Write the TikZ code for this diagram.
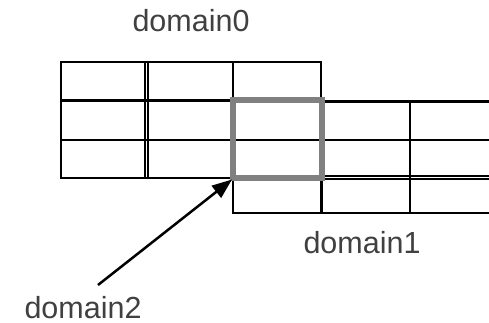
\documentclass[tikz,border=0pt]{standalone}
\usepackage{fontspec}
\setmainfont{Liberation Sans}
\usetikzlibrary{arrows.meta}
\definecolor{txt}{HTML}{404040}
\definecolor{hl}{HTML}{808080}
\begin{document}
\begin{tikzpicture}[x=1pt,y=-1pt,
  gridline/.style={draw=black,line width=2.2pt},
  label/.style={text=txt,font=\fontsize{30.5}{33}\selectfont,inner sep=0pt,anchor=base},
  highlight/.style={draw=hl,line width=6pt},
  pointer/.style={draw=black,line width=2.5pt,-{Triangle[length=20pt,width=15pt]}}]
\useasboundingbox (0,0) rectangle (489,323);
% domain1 grid
\draw[gridline] (489,101.5) -- (233,101.5) -- (233,213) -- (489,213);
\draw[gridline] (233,140) -- (489,140);
\draw[gridline] (233,176) -- (489,176);
\draw[gridline] (325,179) -- (489,179);
\draw[gridline] (321.5,101.5) -- (321.5,213);
\draw[gridline] (410,101.5) -- (410,213);
% domain0 grid
\draw[gridline] (61,62) rectangle (321,178);
\draw[gridline] (61,100.5) -- (321,100.5);
\draw[gridline] (61,140) -- (321,140);
\draw[gridline] (145,62) -- (145,178);
\draw[gridline] (148,62) -- (148,178);
\draw[gridline] (233,62) -- (233,178);
% domain2 highlight
\coordinate (sq1) at (233,100.5);
\coordinate (sq2) at (321.5,178);
\draw[highlight] (sq1) rectangle (sq2);
% labels
\node[label] (d0) at (191,32) {domain0};
\node[label] (d1) at (362,253) {domain1};
\node[label] (d2) at (83,318) {domain2};
\coordinate (tail) at (98,285);
\coordinate (tip) at (232,179.5);
\draw[pointer] (tail) -- (tip);
\end{tikzpicture}
\end{document}
